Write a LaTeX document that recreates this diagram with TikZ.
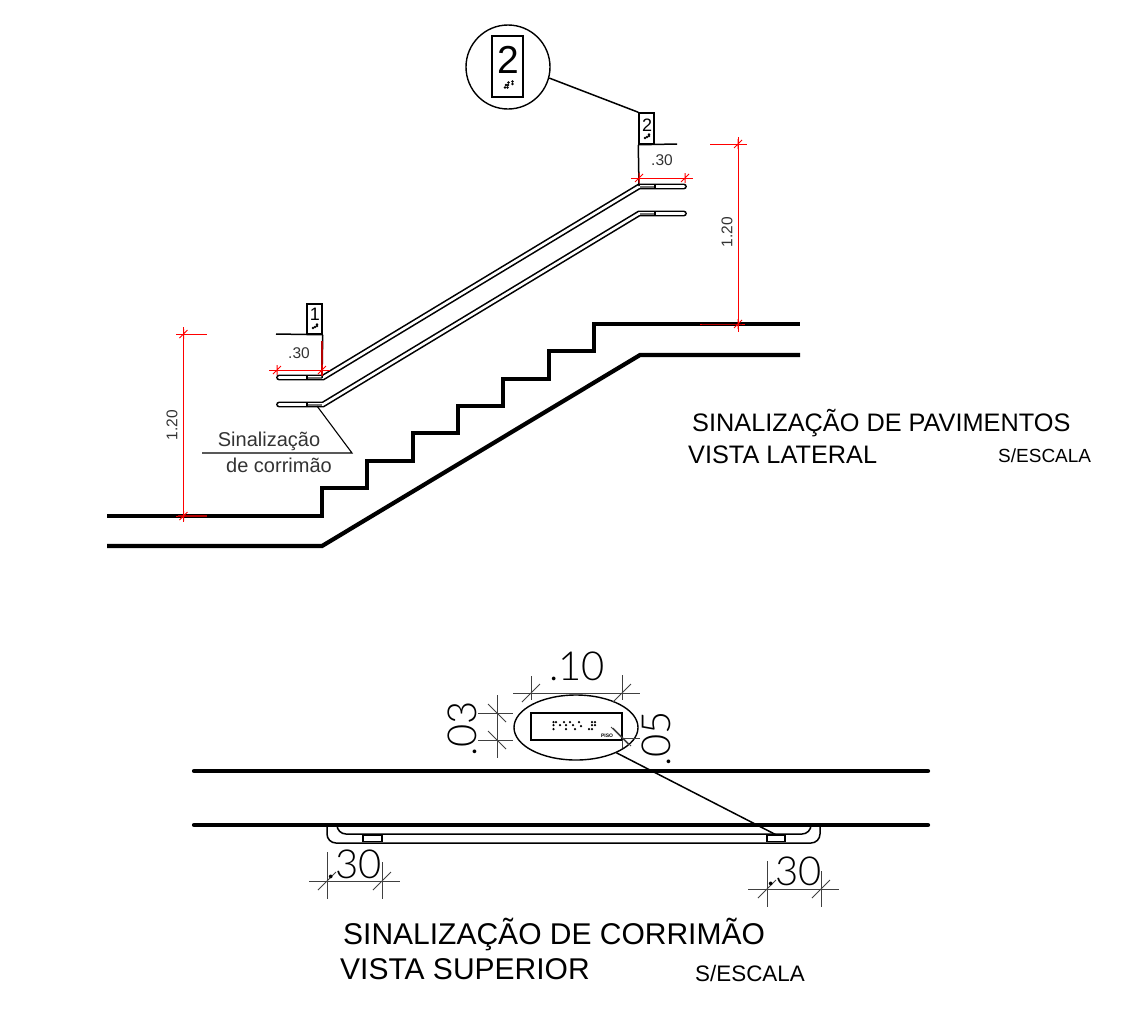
\documentclass[tikz,border=0pt]{standalone}
\usepackage{fontspec}
\setmainfont{Liberation Sans}
\newfontfamily\cadfont{Lato Light}
\usetikzlibrary{shapes.geometric}
\newcommand{\fs}[1]{\fontsize{#1}{#1}\selectfont}
\tikzset{
  floorline/.style={line width=4.2pt},
  thinline/.style={line width=1.5pt},
  dimred/.style={red, line width=1pt},
  dimgray/.style={black!75, line width=.9pt},
  railtube/.style={double=white, double distance=2.6pt, line width=1.6pt, line cap=round},
  signbox/.style={draw, line width=1.5pt, fill=white, inner sep=0pt},
  dimtext/.style={inner sep=0pt, text=black!80},
  cadtext/.style={inner sep=0pt, font=\cadfont},
}
\begin{document}
\begin{tikzpicture}[x=1pt,y=-1pt]
  \useasboundingbox (0,0) rectangle (1145,1013);

  % lateral view: floors and steps
  \draw[floorline] (107,516) -- (322,516) -- (322,488) -- (367,488) -- (367,461) -- (413,461) -- (413,433) -- (458,433) -- (458,406) -- (503,406) -- (503,379) -- (549,379) -- (549,351) -- (594,351) -- (594,324) -- (800,324);
  \draw[floorline] (107,546) -- (322,546) -- (640,355) -- (800,355);

  % handrails
  \foreach \d in {0,27}
  {
    \draw[railtube] (279,377.5+\d) -- (323,377.5+\d) -- (639,186.5+\d) -- (684,186.5+\d);
    \fill[black!55] (307,376.5+\d) rectangle (322,378.5+\d);
    \fill[black!55] (640,185.5+\d) rectangle (655,187.5+\d);
    \draw[line width=1.2pt] (307,375+\d) -- (307,380+\d);
    \draw[line width=1.2pt] (655,184+\d) -- (655,189+\d);
  }

  % signs on the wall
  \node[signbox, minimum width=15pt, minimum height=30pt] (signlow) at (314.5,319) {};
  \node[signbox, minimum width=15pt, minimum height=31pt] (signtop) at (646.5,128.5) {};
  \node[inner sep=0pt] (numlow) at (315,314) {\fs{18}1};
  \node[inner sep=0pt] (numtop) at (647,125) {\fs{18}2};
  \foreach \x/\y in {313/328,315/327,317/326,317/324.5}
  \fill (\x,\y) circle (1.3pt);
  \foreach \x/\y in {645/138,647/137,649/136,649/134.5}
  \fill (\x,\y) circle (1.3pt);
  \draw[thinline] (276,334) -- (signlow.south east);
  \draw[thinline] (signlow.south east) -- (322,378);
  \draw[thinline] (signtop.south west) -- (677,144);
  \draw[thinline] (signtop.south west) -- (639,186);

  % enlarged sign
  \node[draw, circle, line width=1.4pt, minimum size=84pt, inner sep=0pt] (detailcircle) at (508,67) {};
  \node[signbox, minimum width=31pt, minimum height=61pt] (detailsign) at (507.5,66.5) {};
  \node[inner sep=0pt] (detailnum) at (508,60) {\fs{39}2};
  \foreach \x/\y in {505/87.5,507.5/87.5,506/85,508/85,508.5/82.5,512.5/81.5,512.5/84}
  \fill (\x,\y) circle (1.4pt);
  \draw[thinline] (detailcircle.-15) -- (signtop.north west);

  % red dimensions
  \draw[dimred] (738,137) -- (738,332);
  \draw[dimred] (710,144) -- (747,144);
  \draw[dimred] (700,324.5) -- (745,324.5);
  \draw[dimred] (183.5,327) -- (183.5,522);
  \draw[dimred] (176,334) -- (207,334);
  \draw[dimred] (176,516) -- (207,516);
  \draw[dimred] (631,178) -- (693,178);
  \draw[dimred] (269,370) -- (330,370);
  \draw[red!70!black, line width=1.6pt] (322,341) -- (322,376);
  \draw[red!70!black, line width=1.6pt] (178,516) -- (207,516);
  \draw[red!70!black, line width=1.6pt] (702,324.5) -- (742,324.5);
  \foreach \x/\y in {738/144,738/324,183.5/334,183.5/516,639/178,685/178,277/370,322/370}
  \draw[dimred] (\x-4,\y+4) -- (\x+4,\y-4) (\x,\y-5) -- (\x,\y+5);

  \node[dimtext, rotate=90] (dimtop) at (727,232) {\fs{15.5}1.20};
  \node[dimtext, rotate=90] (dimlow) at (172,425) {\fs{15.5}1.20};
  \node[dimtext] (dimwalltop) at (662,160) {\fs{15.5}.30};
  \node[dimtext] (dimwalllow) at (299,353) {\fs{15.5}.30};

  % note on the handrail
  \node[dimtext] (noteone) at (269,441) {\fs{20}Sinalização};
  \node[dimtext] (notetwo) at (279,465) {\fs{20}de corrimão};
  \coordinate (noteend) at (352,453);
  \coordinate (noterail) at (317,406);
  \draw[line width=1.1pt] (202,453) -- (noteend) -- (noterail);

  % titles
  \node[anchor=west, inner sep=0pt] (titleone) at (692,423) {\fs{25.3}SINALIZAÇÃO DE PAVIMENTOS};
  \node[anchor=west, inner sep=0pt] (subone) at (688,455) {\fs{25.3}VISTA LATERAL};
  \node[anchor=west, inner sep=0pt] (scaleone) at (998,456) {\fs{19}S/ESCALA};
  \node[anchor=west, inner sep=0pt] (titletwo) at (343,934) {\fs{30}SINALIZAÇÃO DE CORRIMÃO};
  \node[anchor=west, inner sep=0pt] (subtwo) at (340,969) {\fs{30}VISTA SUPERIOR};
  \node[anchor=west, inner sep=0pt] (scaletwo) at (695,973) {\fs{22.4}S/ESCALA};

  % top view
  \draw[floorline, line cap=round] (194,771) -- (928,771);
  \draw[floorline, line cap=round] (194,825) -- (928,825);
  \draw[thinline, rounded corners=9pt] (327,826) -- (327,843) -- (820,843) -- (820,826);
  \draw[thinline, rounded corners=9pt] (337,826) -- (337,834) -- (811,834) -- (811,826);
  \node[signbox, minimum width=19pt, minimum height=6pt] (railsignl) at (372.5,838.5) {};
  \node[signbox, minimum width=18pt, minimum height=6pt] (railsignr) at (776,838.5) {};

  % enlarged plate
  \node[draw, ellipse, line width=1.4pt, minimum width=124pt, minimum height=65pt, inner sep=0pt] (plateellipse) at (576,727.5) {};
  \node[draw, line width=1.4pt, minimum width=91pt, minimum height=27pt, inner sep=0pt] (plate) at (576.5,726.5) {};
  \foreach \x/\y in {553.5/722,553.5/725,553.5/729,556/722,560/725,564/722,566/725,566/729,570/722,573/725,575/729,579/722,581/726,589/729,592/722,592/725,592/729,595/722,595/725}
  \fill (\x,\y) circle (1.25pt);
  \node[inner sep=0pt] (platetext) at (607,736) {\fs{5}\bfseries PISO};
  \draw[thinline] (plateellipse.-32) -- (railsignr.north);

  % gray dimensions
  \draw[dimgray] (513,693) -- (640,693);
  \draw[dimgray] (531,676) -- (531,700) (622,675) -- (622,700);
  \draw[dimgray] (478,713) -- (513,713) (478,740) -- (513,740);
  \draw[dimgray] (497,695) -- (497,758);
  \draw[dimgray] (622,738) -- (640,738);
  \draw[dimgray] (622,740) -- (622,748);
  \foreach \x/\y in {531/693,622/693}
  \draw[dimgray] (\x-9,\y+9) -- (\x+9,\y-9);
  \foreach \x/\y in {497/713,497/740,622/737,620/736}
  \draw[dimgray] (\x-9,\y-9) -- (\x+9,\y+9);
  \draw[dimgray] (309,881) -- (400,881);
  \draw[dimgray] (327,852) -- (327,899) (382,862) -- (382,899);
  \draw[dimgray] (748,889) -- (839,889);
  \draw[dimgray] (767,861) -- (767,907) (821,871) -- (821,907);
  \foreach \x/\y in {327/881,382/881,767/889,821/889}
  \draw[dimgray] (\x-9,\y+9) -- (\x+9,\y-9);

  \node[cadtext, anchor=base] (dimten) at (577,680) {\fs{40}.10};
  \node[cadtext, anchor=base, rotate=90] (dimthree) at (476,729) {\fs{40}.03};
  \node[cadtext, anchor=base, rotate=90] (dimfive) at (670,739) {\fs{40}.05};
  \node[cadtext, anchor=base] (dimthirtyl) at (354,878) {\fs{40}.30};
  \node[cadtext, anchor=base] (dimthirtyr) at (794,885) {\fs{40}.30};
\end{tikzpicture}
\end{document}
